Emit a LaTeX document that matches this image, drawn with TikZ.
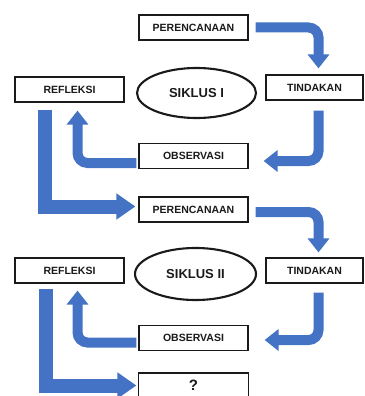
\documentclass[tikz,border=0pt]{standalone}
\usepackage{fontspec}
\setmainfont{Liberation Sans}
\usepackage{tikz}
\usetikzlibrary{arrows.meta,shapes.geometric,calc}
\definecolor{ink}     {HTML}{1A1A1A}
\definecolor{flowblue}{HTML}{4472C4}
\tikzset{
  every node/.style={font=\bfseries\fontsize{10.5}{12}\selectfont, text=ink},
  % --- nodes
  box/.style    = {draw=ink, line width=1.2pt, fill=white, inner sep=2pt,
                   minimum width=109pt, minimum height=25pt},
  sidebox/.style= {box, minimum width=97pt},
  cyc/.style    = {ellipse, draw=ink, line width=2.1pt, inner sep=0pt,
                   minimum width=119pt, minimum height=50pt,
                   font=\bfseries\fontsize{13}{15}\selectfont},
  % --- edges
  flow/.style   = {draw=flowblue, line width=10pt, rounded corners=10pt,
                   -{Triangle[width=21pt,length=14pt]}},
  bigflow/.style= {draw=flowblue, line width=14pt,
                   -{Triangle[width=25pt,length=19pt]}},
}
\begin{document}
\begin{tikzpicture}[x=1pt,y=-1pt]
  \useasboundingbox (0,0) rectangle (364,396);
  % siklus I
  \node[box]     (per1) at (193.5,27.5)  {PERENCANAAN};
  \node[sidebox] (tin1) at (314.5,87.5)  {TINDAKAN};
  \node[box]     (ref1) at (69.5,89.5)   {REFLEKSI};
  \node[cyc]     (cyc1) at (196.5,93)    {SIKLUS I};
  \node[box]     (obs1) at (193.5,156)   {OBSERVASI};
  % siklus II
  \node[box]     (per2) at (193.5,209.5) {PERENCANAAN};
  \node[sidebox] (tin2) at (314.5,270.5) {TINDAKAN};
  \node[box]     (ref2) at (69.5,270.5)  {REFLEKSI};
  \node[cyc, minimum width=121pt, minimum height=52pt]
                 (cyc2) at (195.5,274)   {SIKLUS II};
  \node[box]     (obs2) at (193.5,338)   {OBSERVASI};
  \node[box, minimum width=110pt, font=\bfseries\fontsize{15}{17}\selectfont]
                 (next) at (193.5,385.5) {?};
  % arrows, siklus I
  \draw[flow] ([xshift=7pt]per1.east) -| ([xshift=4pt,yshift=6pt]tin1.north);
  \draw[flow] ([xshift=4pt,yshift=-10pt]tin1.south) |- ([xshift=15pt,yshift=-5pt]obs1.east);
  \draw[flow] ([xshift=-2pt,yshift=-7pt]obs1.west) -| ([xshift=8pt,yshift=-8pt]ref1.south);
  \draw[bigflow] ([xshift=-25pt,yshift=-7pt]ref1.south) |- ([xshift=-3pt,yshift=3pt]per2.west);
  % arrows, siklus II
  \draw[flow] ([xshift=7pt,yshift=-2.5pt]per2.east) -| ([xshift=4pt,yshift=5pt]tin2.north);
  \draw[flow] ([xshift=4pt,yshift=-9pt]tin2.south) |- ([xshift=16pt,yshift=-2pt]obs2.east);
  \draw[flow] ([xshift=-2pt,yshift=-4.5pt]obs2.west) -| ([xshift=8pt,yshift=-7pt]ref2.south);
  \draw[bigflow] ([xshift=-24pt,yshift=-5pt]ref2.south) |- ([xshift=-1.5pt]next.west);
\end{tikzpicture}
\end{document}
